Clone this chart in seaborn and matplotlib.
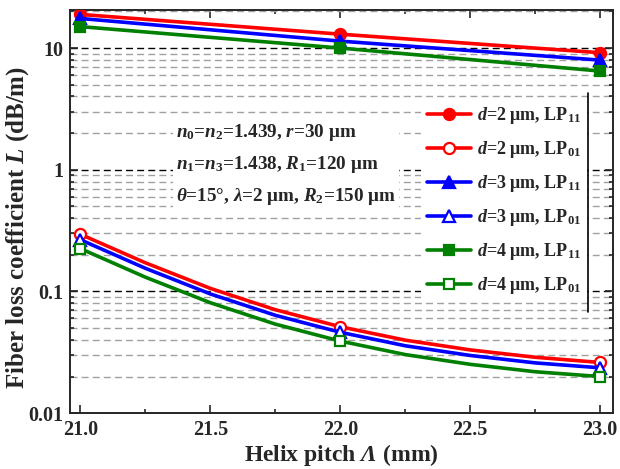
import matplotlib
matplotlib.use("Agg")
import matplotlib.pyplot as plt
import matplotlib.ticker as mticker
from matplotlib.lines import Line2D
import numpy as np
import pandas as pd
import seaborn as sns

# LP11 modes: values only at the marked pitches
pitch_lp11 = [21.0, 22.0, 23.0]
loss_d2_lp11 = [18.9, 13.0, 9.15]
loss_d3_lp11 = [17.5, 11.4, 7.96]
loss_d4_lp11 = [15.0, 10.0, 6.47]

# LP01 modes, markers only at 21, 22, 23
pitch_lp01 = [21.0, 21.25, 21.5, 21.75, 22.0, 22.25, 22.5, 22.75, 23.0]
loss_d2_lp01 = [0.295, 0.172, 0.106, 0.0708, 0.0513, 0.0398, 0.0331, 0.0288, 0.0261]
loss_d3_lp01 = [0.266, 0.155, 0.0954, 0.0637, 0.0462, 0.0358, 0.0298, 0.0259, 0.0236]
loss_d4_lp01 = [0.225, 0.131, 0.0808, 0.0539, 0.0391, 0.0303, 0.0252, 0.0219, 0.0200]

labels = [
    "$d$=2 μm, LP$_{11}$", "$d$=2 μm, LP$_{01}$",
    "$d$=3 μm, LP$_{11}$", "$d$=3 μm, LP$_{01}$",
    "$d$=4 μm, LP$_{11}$", "$d$=4 μm, LP$_{01}$",
]
param_lines = [
    "$n_0$=$n_2$=1.439, $r$=30 μm",
    "$n_1$=$n_3$=1.438, $R_1$=120 μm",
    r"$\theta$=15°, $\lambda$=2 μm, $R_2$=150 μm",
]

sns.set_style("ticks")
plt.rcParams["font.family"] = ["Liberation Serif", "DejaVu Serif"]
plt.rcParams["font.weight"] = "bold"
plt.rcParams["mathtext.fontset"] = "custom"
plt.rcParams["mathtext.rm"] = "Liberation Serif:bold"
plt.rcParams["mathtext.bf"] = "Liberation Serif:bold"
plt.rcParams["mathtext.it"] = "Liberation Serif:italic:bold"
# italic capital greek via the sf slot
plt.rcParams["mathtext.sf"] = "Liberation Serif:italic"

series = [
    (pitch_lp11, loss_d2_lp11, "#ff0000", "o", True),
    (pitch_lp01, loss_d2_lp01, "#ff0000", "o", False),
    (pitch_lp11, loss_d3_lp11, "#0000ff", "^", True),
    (pitch_lp01, loss_d3_lp01, "#0000ff", "^", False),
    (pitch_lp11, loss_d4_lp11, "#008000", "s", True),
    (pitch_lp01, loss_d4_lp01, "#008000", "s", False),
]

fig = plt.figure(figsize=(6.2, 4.69), dpi=100)
ax = fig.add_axes([0.113, 0.119, 0.876, 0.86])

for (xs, ys, col, mk, filled), lab in zip(series, labels):
    df = pd.DataFrame({"pitch": xs, "loss": ys})
    every = [i for i, v in enumerate(xs) if v in (21.0, 22.0, 23.0)]
    sns.lineplot(
        data=df, x="pitch", y="loss", ax=ax, color=col, lw=2.6,
        marker=mk, markersize=8 if mk != "s" else 7,
        markerfacecolor=col if filled else "white",
        markeredgecolor=col, markeredgewidth=1.6,
        markevery=every, label=lab, zorder=5,
        solid_joinstyle="round",
    )

ax.set_yscale("log")
ax.set_ylim(0.01, 20.6)
ax.set_xlim(20.96, 23.05)

ax.xaxis.set_major_locator(mticker.MultipleLocator(0.5))
ax.xaxis.set_minor_locator(mticker.MultipleLocator(0.25))
ax.xaxis.set_major_formatter(mticker.FormatStrFormatter("%.1f"))
ax.yaxis.set_major_locator(mticker.FixedLocator([0.01, 0.1, 1, 10]))
ax.yaxis.set_major_formatter(mticker.FixedFormatter(["0.01", "0.1", "1", "10"]))
ax.yaxis.set_minor_locator(mticker.LogLocator(base=10, subs=np.arange(2, 10)))
ax.yaxis.set_minor_formatter(mticker.NullFormatter())

ax.tick_params(which="both", direction="in", top=True, right=True, width=1.2,
               labelsize=14.5)
ax.tick_params(which="major", length=6, pad=5)
ax.tick_params(which="minor", length=3)
for sp in ax.spines.values():
    sp.set_linewidth(1.4)

ax.yaxis.grid(True, which="major", color="black", ls=(0, (5, 3)), lw=1.0)
ax.yaxis.grid(True, which="minor", color="#a0a0a0", ls=(0, (5, 3)), lw=1.0)
ax.set_axisbelow(True)

ax.set_xlabel(r"Helix pitch $\mathsf{\Lambda}$ (mm)", fontsize=17, fontweight="bold",
              labelpad=1)
ax.set_ylabel("Fiber loss coefficient $L$ (dB/m)", fontsize=18, fontweight="bold")
ax.yaxis.set_label_coords(-0.072, 0.46)

leg = ax.legend(loc="upper left", bbox_to_anchor=(0.63, 0.80), fontsize=13,
                labelspacing=0.72, handlelength=2.45, handletextpad=0.35,
                borderpad=0.3, frameon=True, fancybox=False)
leg.get_frame().set_edgecolor("none")
leg.get_frame().set_facecolor("white")
leg.get_frame().set_alpha(1.0)
leg.set_zorder(10)
ax.add_line(Line2D([0.954, 0.954], [0.25, 0.795], transform=ax.transAxes,
                   color="black", lw=1.2, zorder=11))

ax.text(0.195, 0.722, "\n".join(param_lines), transform=ax.transAxes,
        fontsize=13.8, va="top", ha="left", linespacing=1.72, zorder=9,
        bbox=dict(facecolor="white", edgecolor="none", pad=2))

fig.savefig("out.png", dpi=100)
